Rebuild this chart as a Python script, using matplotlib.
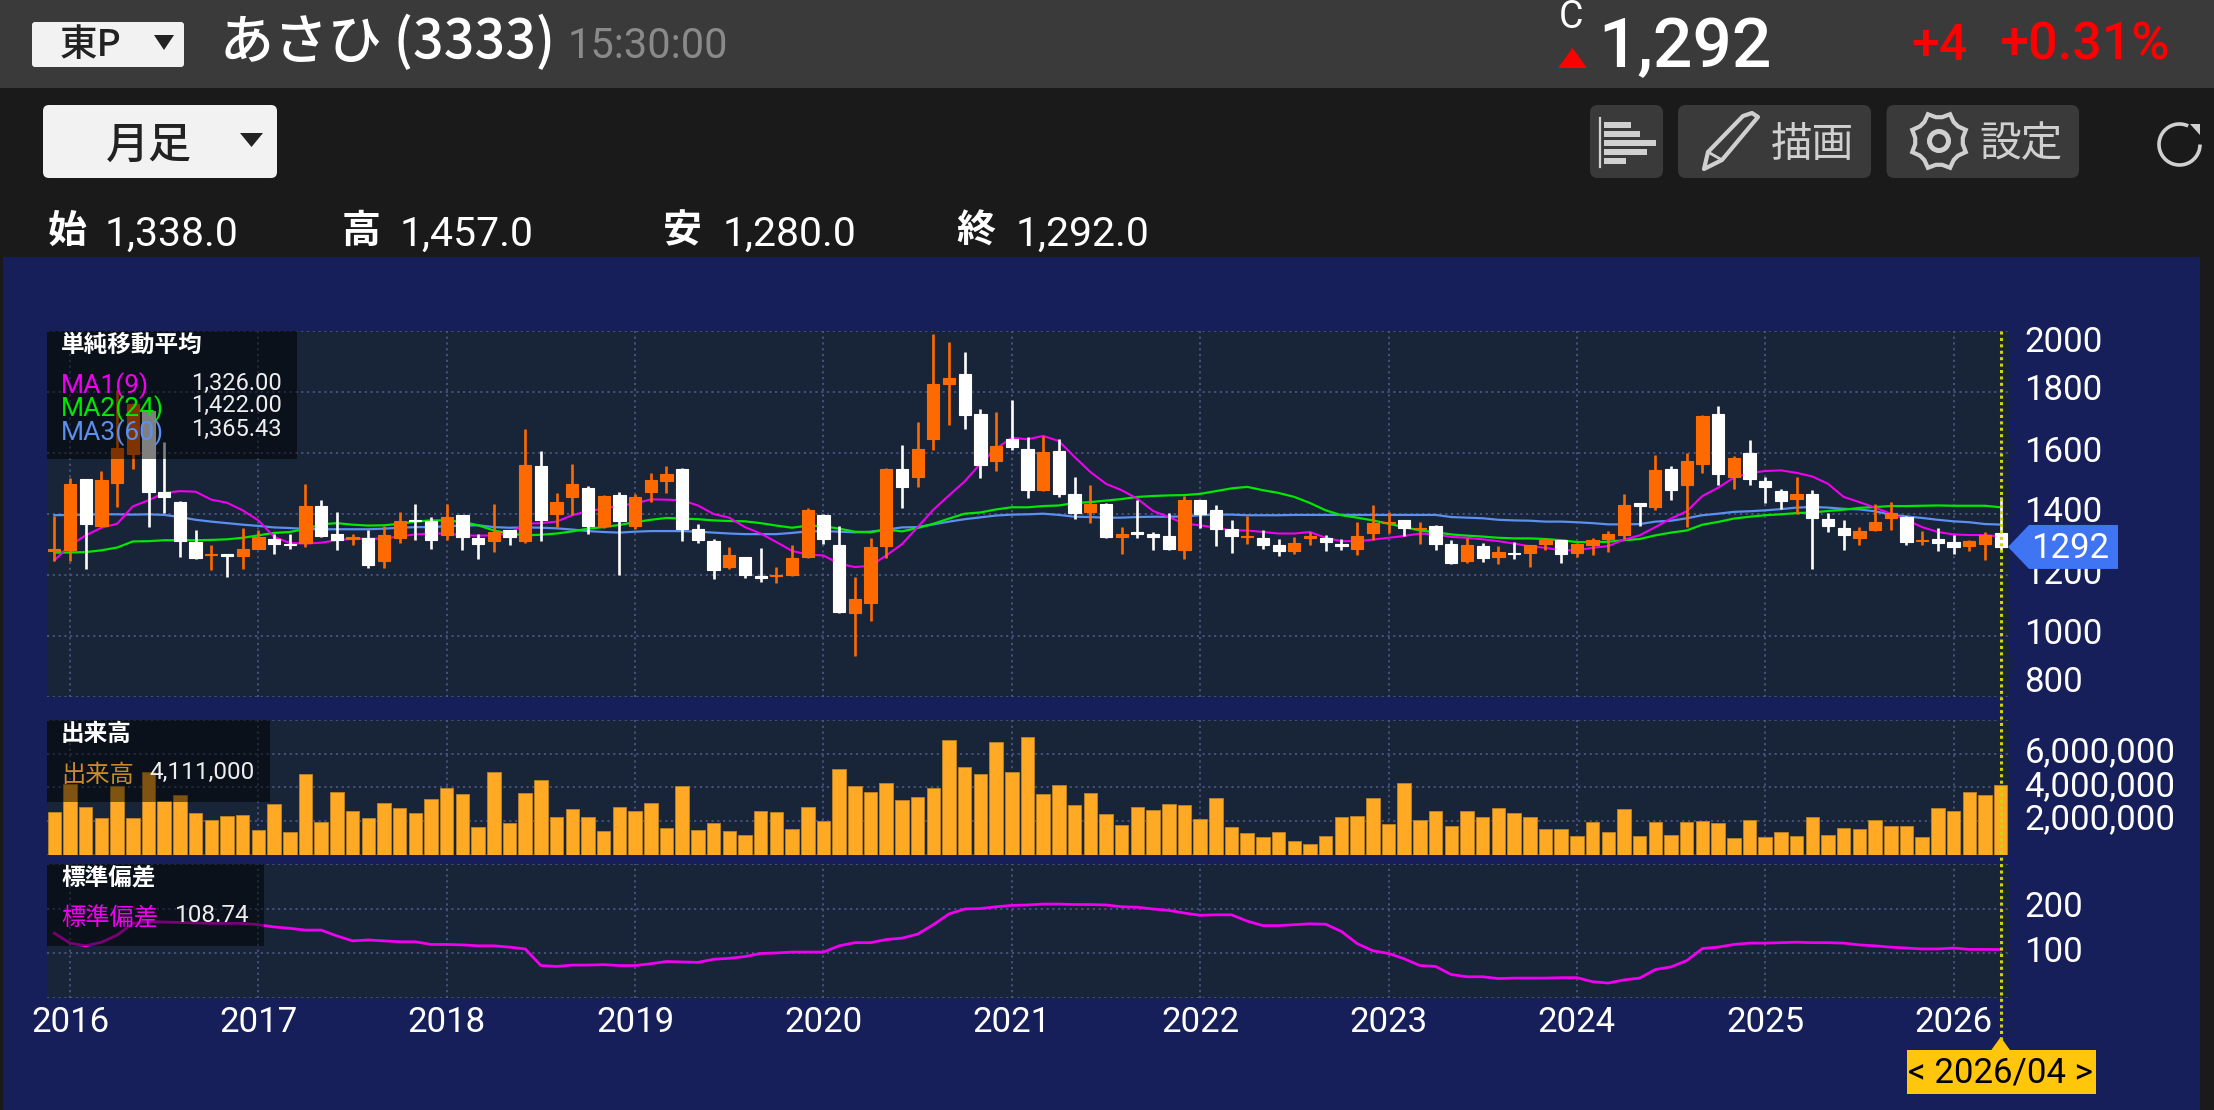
import numpy as np
import matplotlib
matplotlib.use("Agg")
import matplotlib.pyplot as plt
from matplotlib.patches import Rectangle, Polygon, FancyBboxPatch, Arc, Circle

plt.rcParams["font.family"] = ["Roboto", "Noto Sans CJK JP", "DejaVu Sans"]

# monthly OHLC, 2015/12 .. 2026/04
opens = [1278,1283,1514,1361,1502,1598,1738,1471,1439,1308,
         1264,1268,1262,1286,1318,1303,1305,1425,1336,1318,
         1322,1246,1321,1381,1377,1330,1396,1322,1310,1349,
         1310,1556,1400,1457,1484,1360,1463,1360,1473,1507,
         1546,1350,1313,1225,1258,1198,1196,1201,1258,1396,
         1298,1076,1107,1296,1548,1520,1647,1827,1858,1729,
         1575,1645,1614,1479,1605,1466,1408,1432,1325,1341,
         1333,1328,1281,1446,1412,1352,1323,1320,1297,1278,
         1321,1321,1301,1286,1338,1370,1380,1350,1361,1303,
         1245,1294,1258,1273,1272,1303,1314,1271,1299,1318,
         1330,1436,1424,1548,1495,1565,1729,1521,1599,1509,
         1474,1449,1467,1383,1354,1322,1349,1387,1390,1310,
         1319,1307,1295,1301,1338]
highs = [1392,1519,1516,1541,1805,1764,1740,1636,1443,1349,
         1297,1270,1355,1349,1333,1336,1499,1447,1405,1333,
         1349,1360,1407,1434,1390,1432,1398,1333,1434,1349,
         1680,1607,1469,1565,1491,1461,1473,1467,1534,1557,
         1550,1368,1318,1292,1259,1289,1227,1297,1421,1400,
         1360,1193,1322,1550,1626,1702,1989,1964,1932,1743,
         1734,1773,1654,1655,1645,1522,1494,1436,1356,1447,
         1341,1403,1459,1447,1428,1381,1393,1349,1319,1325,
         1340,1330,1319,1375,1431,1407,1381,1375,1363,1314,
         1321,1305,1294,1309,1297,1320,1316,1305,1320,1343,
         1466,1437,1593,1556,1601,1724,1754,1591,1642,1521,
         1483,1521,1480,1403,1379,1357,1433,1439,1392,1344,
         1355,1330,1316,1341,1457]
lows = [1246,1246,1221,1357,1423,1548,1357,1404,1259,1252,
        1217,1193,1221,1285,1270,1286,1292,1325,1283,1297,
        1224,1224,1306,1316,1286,1316,1283,1251,1276,1297,
        1306,1311,1357,1396,1336,1355,1199,1351,1439,1469,
        1310,1305,1188,1220,1191,1177,1174,1198,1256,1302,
        1075,934,1049,1257,1420,1488,1609,1692,1680,1517,
        1541,1609,1451,1475,1456,1385,1369,1321,1270,1322,
        1283,1283,1254,1354,1294,1272,1301,1286,1261,1268,
        1298,1279,1281,1267,1314,1339,1328,1303,1281,1237,
        1240,1242,1237,1254,1226,1283,1239,1259,1266,1277,
        1319,1362,1414,1447,1357,1536,1494,1483,1496,1437,
        1415,1399,1220,1341,1281,1298,1345,1348,1297,1299,
        1280,1268,1278,1249,1280]
closes = [1286,1499,1366,1513,1617,1762,1472,1455,1311,1256,
          1268,1261,1284,1325,1303,1297,1425,1329,1314,1325,
          1232,1330,1377,1377,1314,1390,1325,1301,1340,1323,
          1561,1381,1440,1499,1360,1459,1376,1457,1510,1531,
          1351,1314,1216,1264,1199,1189,1200,1256,1412,1317,
          1079,1120,1292,1549,1490,1614,1825,1846,1723,1560,
          1623,1620,1479,1602,1466,1402,1432,1323,1333,1336,
          1325,1285,1446,1399,1351,1328,1328,1300,1278,1306,
          1329,1307,1295,1329,1369,1374,1353,1354,1301,1240,
          1298,1256,1274,1268,1297,1316,1268,1303,1316,1334,
          1428,1425,1545,1480,1573,1721,1531,1583,1516,1489,
          1442,1467,1387,1360,1330,1345,1374,1402,1307,1316,
          1306,1291,1310,1330,1292]

# moving averages
ma1 = [1248,1297,1330,1355,1368,1425,1445,1469,1475,1473,
       1447,1437,1412,1379,1325,1305,1303,1306,1314,1319,
       1319,1319,1327,1333,1336,1336,1330,1329,1330,1336,
       1368,1370,1375,1396,1410,1417,1428,1434,1448,1447,
       1445,1428,1400,1388,1357,1336,1308,1279,1267,1264,
       1237,1226,1230,1264,1301,1357,1414,1461,1507,1565,
       1614,1650,1645,1656,1639,1587,1538,1499,1478,1450,
       1410,1390,1368,1363,1355,1346,1346,1341,1336,1336,
       1341,1322,1311,1311,1316,1322,1328,1336,1333,1325,
       1322,1317,1311,1303,1294,1289,1281,1281,1289,1295,
       1316,1330,1357,1385,1409,1459,1486,1519,1534,1541,
       1543,1535,1523,1499,1456,1439,1421,1401,1381,1357,
       1341,1333,1331,1331,1326]
ma2 = [1273,1274,1275,1281,1290,1310,1311,1314,1314,1314,
       1315,1317,1322,1330,1338,1341,1351,1366,1370,1365,
       1362,1363,1368,1375,1379,1379,1374,1363,1346,1336,
       1330,1332,1336,1343,1352,1357,1364,1373,1381,1387,
       1385,1383,1379,1377,1376,1370,1362,1355,1362,1360,
       1352,1342,1340,1349,1343,1354,1368,1385,1401,1405,
       1415,1422,1422,1426,1428,1436,1439,1444,1449,1456,
       1459,1461,1462,1466,1475,1484,1489,1478,1469,1456,
       1436,1412,1396,1388,1379,1368,1357,1346,1340,1333,
       1329,1326,1322,1320,1320,1318,1314,1308,1308,1309,
       1314,1318,1330,1339,1346,1365,1374,1385,1391,1396,
       1399,1403,1405,1410,1414,1420,1423,1426,1426,1427,
       1428,1427,1427,1427,1422]
ma3 = [1396,1397,1398,1399,1399,1398,1399,1397,1390,1381,
       1375,1370,1365,1361,1356,1354,1351,1350,1350,1350,
       1350,1352,1355,1357,1357,1360,1362,1363,1357,1355,
       1356,1355,1353,1349,1344,1341,1339,1342,1344,1344,
       1344,1342,1339,1336,1334,1334,1334,1338,1343,1344,
       1342,1340,1342,1349,1356,1357,1366,1375,1383,1389,
       1395,1398,1399,1401,1397,1391,1390,1388,1388,1390,
       1391,1391,1392,1396,1398,1398,1396,1396,1396,1397,
       1397,1397,1397,1397,1397,1397,1397,1397,1397,1390,
       1388,1386,1381,1379,1378,1375,1375,1373,1370,1366,
       1366,1367,1375,1378,1386,1396,1401,1407,1409,1412,
       1416,1421,1423,1421,1417,1415,1409,1398,1392,1387,
       1381,1376,1373,1367,1365.43]

# volume in millions of shares
volume = [2.55,4.20,2.81,2.16,4.08,2.16,4.93,3.17,3.54,2.46,
          2.08,2.30,2.36,1.47,2.99,1.35,4.79,1.92,3.70,2.59,
          2.16,3.05,2.77,2.50,3.29,3.98,3.58,1.62,4.93,1.86,
          3.68,4.44,2.26,2.69,2.26,1.39,2.85,2.59,3.09,1.56,
          4.06,1.47,1.88,1.43,1.17,2.61,2.55,1.50,2.83,1.98,
          5.11,4.08,3.74,4.28,3.23,3.41,3.96,6.81,5.19,4.79,
          6.71,4.91,6.97,3.60,4.12,2.93,3.66,2.40,1.78,2.81,
          2.67,3.01,2.95,2.14,3.35,1.64,1.31,1.03,1.37,0.81,
          0.65,1.09,2.24,2.30,3.35,1.80,4.28,2.04,2.61,1.68,
          2.59,2.24,2.75,2.48,2.24,1.52,1.50,1.11,1.96,1.37,
          2.69,1.11,1.94,1.19,1.92,1.98,1.88,0.99,2.04,1.03,
          1.37,1.11,2.24,1.19,1.60,1.50,2.04,1.72,1.72,1.07,
          2.75,2.57,3.72,3.56,4.111]

# standard deviation
stdev = [145,123,117,125,141,167,171,170,169,168,
         167,167,167,164,159,156,152,152,139,128,
         130,128,126,126,120,120,119,117,117,114,
         110,73,71,74,74,75,73,73,77,82,
         81,80,87,89,93,100,101,103,103,103,
         117,124,124,131,134,143,164,188,199,200,
         204,207,208,210,210,209,209,208,204,203,
         199,196,190,185,186,186,172,162,162,164,
         166,165,149,122,106,100,88,73,71,53,
         48,48,44,45,45,45,46,46,37,34,
         41,45,64,70,84,111,114,120,123,123,
         124,125,124,124,123,119,117,114,112,110,
         110,112,109,109,108.74]

years = [2016, 2017, 2018, 2019, 2020, 2021, 2022, 2023, 2024, 2025, 2026]
year_pos = [1, 13, 25, 37, 49, 61, 73, 85, 97, 109, 121]
price_ticks = [800, 1000, 1200, 1400, 1600, 1800, 2000]
vol_ticks = [0, 2, 4, 6, 8]
std_ticks = [0, 100, 200, 300]

W, H = 2214, 1110
NAVY = "#161f5a"
PANEL = "#182438"
GRID = "#4a5580"
ORANGE = "#ff6a00"
MAGENTA = "#f000f0"
GREEN = "#00e800"
BLUE = "#5b8ff0"
JP = ["Noto Sans CJK JP", "DejaVu Sans"]
NUM = ["Roboto", "Noto Sans CJK JP"]

fig = plt.figure(figsize=(W / 100, H / 100), dpi=100, facecolor="#1a1a1a")


def page_axes(z):
    ax = fig.add_axes([0, 0, 1, 1], zorder=z)
    ax.set_xlim(0, W)
    ax.set_ylim(H, 0)
    ax.axis("off")
    return ax


def panel(top, bottom):
    left, right = 46.5, 2008.5
    ax = fig.add_axes([left / W, 1 - bottom / H, (right - left) / W, (bottom - top) / H], zorder=2)
    ax.set_facecolor(PANEL)
    for s in ax.spines.values():
        s.set_visible(False)
    ax.set_xlim(-0.5, 124.5)
    ax.set_xticks(year_pos)
    ax.set_xticklabels([])
    ax.tick_params(length=0)
    ax.set_yticklabels([])
    ax.grid(True, color=GRID, lw=1.3, ls=(0, (1.2, 2)), zorder=0)
    ax.set_axisbelow(True)
    return ax


def txt(ax, x, y, s, size, color="white", ha="left", weight="normal", family=NUM):
    return ax.text(x, y, s, fontsize=size, color=color, ha=ha, va="center",
                   fontweight=weight, family=family)


def axis_label(ax, value, s, dy):
    # labels sit right of the panel, nudged off their gridline
    ax.annotate(s, xy=(1, value), xycoords=ax.get_yaxis_transform(),
                xytext=(16, dy), textcoords="offset pixels", color="white",
                fontsize=25, va="center", ha="left", annotation_clip=False)


back = page_axes(0)
back.add_patch(Rectangle((0, 0), W, 88, fc="#3a3a3a", ec="none"))
back.add_patch(Rectangle((3, 257), 2197, H - 257, fc=NAVY, ec="none"))

# header
back.add_patch(FancyBboxPatch((34, 24), 148, 41, boxstyle="round,pad=2,rounding_size=3", fc="#f2f2f2", ec="none"))
txt(back, 91, 45, "東P", 27, "#222222", ha="center", weight="medium", family=JP)
back.add_patch(Polygon([(154, 35), (174, 35), (164, 50)], fc="#222222"))
txt(back, 220, 43, "あさひ (3333)", 38.8, weight="medium", family=JP)
txt(back, 568, 46, "15:30:00", 30, "#8a8a8a")
txt(back, 1571, 18, "C", 27, ha="center")
back.add_patch(Polygon([(1558, 68), (1587, 68), (1572.5, 48)], fc="#ff0000"))
txt(back, 1598, 48, "1,292", 50, weight="medium")
txt(back, 1911, 46, "+4", 36, "#ff0000", weight="medium")
txt(back, 1999, 46, "+0.31%", 37.5, "#ff0000", weight="medium")

# toolbar
back.add_patch(FancyBboxPatch((47, 109), 226, 65, boxstyle="round,pad=4,rounding_size=6", fc="#f2f2f2", ec="none"))
txt(back, 149, 145, "月足", 31, "#222222", ha="center", weight="medium", family=JP)
back.add_patch(Polygon([(240, 133), (263, 133), (251.5, 147)], fc="#222222"))
for x0, x1 in [(1590, 1663), (1678, 1871), (1886.5, 2079)]:
    back.add_patch(FancyBboxPatch((x0 + 5, 110), x1 - x0 - 10, 63, boxstyle="round,pad=5,rounding_size=8",
                                  fc="#3a3a3a", ec="none"))
back.plot([1599.5, 1599.5], [118, 167], color="#d0d0d0", lw=1.6)
for y0, x1 in [(121.7, 1631), (130.7, 1640), (139.7, 1655.6), (148.7, 1647), (157.7, 1626)]:
    back.add_patch(Rectangle((1604, y0), x1 - 1604, 6, fc="#d0d0d0", ec="none"))
back.add_patch(Polygon([(1704, 169), (1708, 152), (1743, 116), (1752, 113), (1758, 117), (1722, 160)],
                       fc="none", ec="#d0d0d0", lw=3, joinstyle="round"))
back.plot([1708, 1722], [152, 160], color="#d0d0d0", lw=2)
txt(back, 1812, 145, "描画", 30, "#d0d0d0", ha="center", family=JP)
ang = np.linspace(0, 2 * np.pi, 25)[:-1] + np.pi / 8
rad = np.where(np.arange(24) % 3 == 0, 29.0, 24.0)
back.add_patch(Polygon(np.c_[1939 + rad * np.cos(ang), 141 + rad * np.sin(ang)], fc="none", ec="#d0d0d0", lw=3))
back.add_patch(Circle((1939, 141), 9.5, fc="none", ec="#d0d0d0", lw=3.6))
txt(back, 2021, 145, "設定", 30, "#d0d0d0", ha="center", family=JP)
back.add_patch(Arc((2179.5, 144.5), 41, 41, theta1=0, theta2=295, ec="#d0d0d0", lw=2.6))
back.add_patch(Polygon([(2190, 124), (2200, 124), (2200, 135)], fc="#d0d0d0"))

# OHLC row
ohlc_row = [(48, "始", 105, "1,338.0"), (342, "高", 400, "1,457.0"), (663, "安", 723, "1,280.0"), (956, "終", 1016, "1,292.0")]
for xk, k, xv, v in ohlc_row:
    txt(back, xk, 231, k, 28, weight="bold", family=JP)
    txt(back, xv, 234, v, 29.5)

# price panel
ax_p = panel(331, 697)
ax_p.set_ylim(800, 2000)
ax_p.set_yticks(price_ticks)
x = np.arange(len(closes))
ax_p.plot(x, ma3, color=BLUE, lw=1.6, zorder=2)
ax_p.plot(x, ma2, color=GREEN, lw=1.6, zorder=2)
ax_p.plot(x, ma1, color=MAGENTA, lw=1.5, zorder=2)
colors = [ORANGE if c >= o else "white" for o, c in zip(opens, closes)]
ax_p.vlines(x, lows, highs, colors=colors, lw=1.9, zorder=3)
body_low = np.minimum(opens, closes)
body_h = np.abs(np.subtract(closes, opens))
ax_p.bar(x, body_h, bottom=body_low, width=0.78, color=colors, edgecolor=colors, lw=0.8, zorder=4)
for v, dy in zip(price_ticks, [14, 1, 1, 1, 1, 1, -11]):
    axis_label(ax_p, v, str(v), dy)

# volume panel
ax_v = panel(720, 854.7)
ax_v.set_ylim(0, 8)
ax_v.set_yticks(vol_ticks)
ax_v.bar(x, volume, width=0.86, color="#ffa925", edgecolor="#b57f25", lw=0.7, zorder=3)
for v in vol_ticks[1:4]:
    axis_label(ax_v, v, f"{v * 1000000:,}", 1)

# standard deviation panel
ax_s = panel(863.7, 998.3)
ax_s.set_ylim(0, 300)
ax_s.set_yticks(std_ticks)
ax_s.plot(x, stdev, color=MAGENTA, lw=2.0, zorder=3)
for v in std_ticks[1:3]:
    axis_label(ax_s, v, str(v), 1)
ax_s.set_xticklabels(years, fontsize=25, color="white")
ax_s.tick_params(axis="x", pad=5.5)

# overlays above the panels
top = page_axes(5)
top.patch.set_alpha(0)
for x0, y0, x1, y1 in [(46.5, 331, 297, 459), (46.5, 720, 270, 802), (46.5, 863.7, 264, 946)]:
    top.add_patch(Rectangle((x0, y0), x1 - x0, y1 - y0, fc="black", alpha=0.5, ec="none"))

txt(top, 61, 345, "単純移動平均", 17, weight="bold", family=JP)
legend_rows = [("MA1(9)", MAGENTA, "1,326.00", 386, 383), ("MA2(24)", GREEN, "1,422.00", 409, 405),
               ("MA3(60)", BLUE, "1,365.43", 433, 429)]
for name, col, val, yn, yv in legend_rows:
    txt(top, 61, yn, name, 19, col)
    txt(top, 282, yv, val, 17, "#eeeeee", ha="right")
txt(top, 61, 734, "出来高", 17, weight="bold", family=JP)
txt(top, 61, 775, "出来高", 17.5, "#c98a2a", family=JP)
txt(top, 255, 772, "4,111,000", 17.5, "#eeeeee", ha="right")
txt(top, 61, 878, "標準偏差", 17, weight="bold", family=JP)
txt(top, 61, 918, "標準偏差", 17.5, MAGENTA, family=JP)
txt(top, 250, 915, "108.74", 17.5, "#eeeeee", ha="right")

# crosshair on the latest month
cross_x = top.transData.inverted().transform(ax_p.transData.transform((x[-1], 1000)))[0]
top.plot([cross_x, cross_x], [331, 1040], color="#d2d20a", lw=2.2, ls=(0, (1, 1.1)))
top.add_patch(Polygon([(cross_x - 10, 1051), (cross_x + 10, 1051), (cross_x, 1037)], fc="#ffc60b"))
top.add_patch(Rectangle((1906.5, 1050), 189.5, 44, fc="#ffc60b", ec="none"))
txt(top, cross_x, 1073, "< 2026/04 >", 25, "black", ha="center")

# last price tag
tag_y = top.transData.inverted().transform(ax_p.transData.transform((0, closes[-1])))[1]
top.add_patch(Polygon([(2008, tag_y), (2029, tag_y - 22), (2118, tag_y - 22), (2118, tag_y + 22), (2029, tag_y + 22)],
                      fc="#3f74f2", ec="none"))
txt(top, 2070, tag_y + 2, str(closes[-1]), 25, ha="center")

fig.savefig("out.png", dpi=100, facecolor=fig.get_facecolor())
